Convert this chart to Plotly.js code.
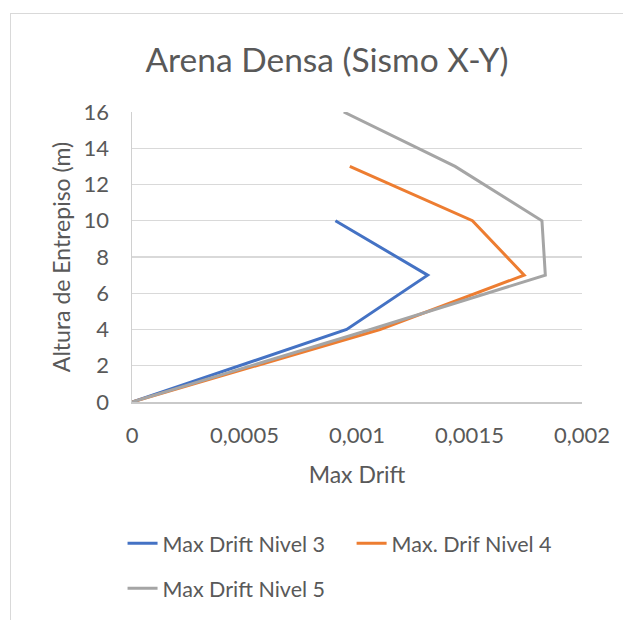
<!DOCTYPE html>
<html>
<head>
<meta charset="utf-8">
<script src="https://cdn.plot.ly/plotly-3.0.1.min.js"></script>
<style>
  html, body { margin: 0; padding: 0; background: #ffffff; overflow: hidden; }
  #frame { position: absolute; left: 10px; top: 13px; width: 700px; height: 700px;
           border: 1px solid #d9d9d9; box-sizing: border-box; }
  #chart { position: absolute; left: 0; top: 0; width: 623px; height: 620px; }
</style>
</head>
<body>
<div id="frame"></div>
<div id="chart"></div>
<script>
// Storey heights (m) and maximum inter-storey drift for each building level
const heightsNivel3 = [0, 4, 7, 10];
const driftNivel3 = [0, 0.000954, 0.001314, 0.000904];

const heightsNivel4 = [0, 4, 7, 10, 13];
const driftNivel4 = [0, 0.001102, 0.001743, 0.001513, 0.000968];

const heightsNivel5 = [0, 4, 7, 10, 13, 16];
const driftNivel5 = [0, 0.00106, 0.001837, 0.001822, 0.001436, 0.000941];

const seriesNames = ['Max Drift Nivel 3', 'Max. Drif Nivel 4', 'Max Drift Nivel 5'];
const yTicks = [0, 2, 4, 6, 8, 10, 12, 14, 16];
const xTicks = [0, 0.0005, 0.001, 0.0015, 0.002];

const FONT = 'Lato, "DejaVu Sans", sans-serif';
const TEXT = '#595959';

const traces = [
  { x: driftNivel3, y: heightsNivel3, name: seriesNames[0], legend: 'legend',
    line: { color: '#4472C4', width: 3 } },
  { x: driftNivel4, y: heightsNivel4, name: seriesNames[1], legend: 'legend2',
    line: { color: '#ED7D31', width: 3 } },
  { x: driftNivel5, y: heightsNivel5, name: seriesNames[2], legend: 'legend3',
    line: { color: '#A5A5A5', width: 3 } }
].map(t => Object.assign({ type: 'scatter', mode: 'lines', hoverinfo: 'skip' }, t));

const legendBase = {
  font: { family: FONT, size: 21.5, color: TEXT },
  bgcolor: 'rgba(0,0,0,0)', borderwidth: 0,
  xanchor: 'left', yanchor: 'middle', orientation: 'h'
};

const layout = {
  width: 623, height: 620,
  paper_bgcolor: 'rgba(0,0,0,0)', plot_bgcolor: 'rgba(0,0,0,0)',
  margin: { l: 132, r: 41, t: 112, b: 217, pad: 0 },
  separators: ', ',
  font: { family: FONT, color: TEXT },
  title: {
    text: 'Arena Densa (Sismo X-Y)',
    font: { family: FONT, size: 33.5, color: TEXT },
    xref: 'container', yref: 'container',
    x: 327 / 623, xanchor: 'center',
    y: 1 - 60 / 620, yanchor: 'middle'
  },
  xaxis: {
    range: [0, 0.002], tickvals: xTicks, tickformat: '~g',
    showgrid: false, zeroline: false,
    showline: true, linecolor: '#c9c9c9', linewidth: 1.5,
    ticks: '', ticklabelstandoff: 13,
    tickfont: { family: FONT, size: 22, color: TEXT },
    title: { text: 'Max Drift', font: { family: FONT, size: 23, color: TEXT }, standoff: 20 }
  },
  yaxis: {
    range: [0, 16], tickvals: yTicks,
    showgrid: true, gridcolor: '#d9d9d9', gridwidth: 1.3,
    zeroline: false,
    showline: true, linecolor: '#d0d0d0', linewidth: 1.5,
    ticks: '', ticklabelstandoff: 17,
    tickfont: { family: FONT, size: 22, color: TEXT },
    title: { text: 'Altura de Entrepiso (m)', font: { family: FONT, size: 23, color: TEXT }, standoff: 6 }
  },
  showlegend: true,
  legend: Object.assign({}, legendBase, { x: -0.021, y: (403 - 543) / 290.4 }),
  legend2: Object.assign({}, legendBase, { x: 0.488, y: (403 - 543) / 290.4 }),
  legend3: Object.assign({}, legendBase, { x: -0.021, y: (403 - 588) / 290.4 })
};

Plotly.newPlot('chart', traces, layout, { staticPlot: true, displayModeBar: false });
</script>
</body>
</html>
